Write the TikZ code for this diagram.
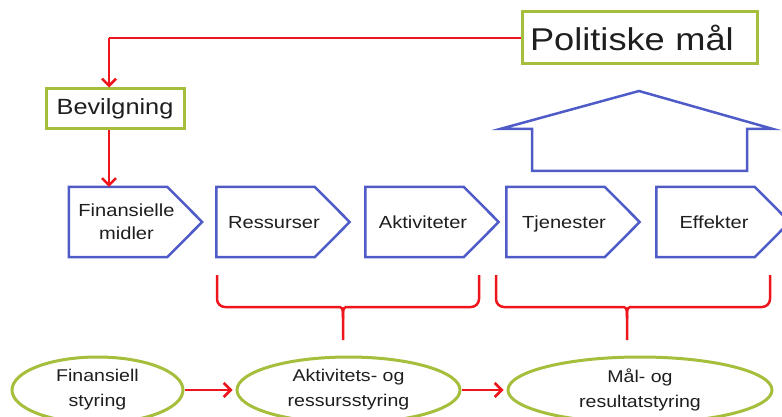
\documentclass[tikz,border=0pt]{standalone}
\usepackage{fontspec}
\setmainfont{Liberation Sans}[FakeStretch=1.15]
\usetikzlibrary{shapes.geometric,arrows.meta,calc}
\definecolor{cblue}{RGB}{79,92,200}
\definecolor{cgreen}{RGB}{165,190,60}
\definecolor{cred}{RGB}{238,22,28}
\definecolor{ctext}{RGB}{30,30,30}
\newcommand\chevoutline[1]{%
  \draw[chevline] (#1.north west) -- ($(#1.north east)+(-35pt,0)$) -- (#1.east)
    -- ($(#1.south east)+(-35pt,0)$) -- (#1.south west) -- cycle;}
\newcommand\lft{\hspace*{-18pt}}
\begin{document}
\begin{tikzpicture}[x=1pt,y=1pt,
 chev/.style={rectangle, minimum width=133pt, minimum height=70pt, inner sep=0pt,
   text=ctext, font=\fontsize{17.5}{23}\selectfont},
 chevone/.style={chev, text height=12.5pt, text depth=0pt},
 chevline/.style={draw=cblue, line width=2.5pt, line join=miter},
 goalbox/.style={draw=cgreen, line width=3pt, text=ctext},
 steer/.style={ellipse, draw=cgreen, line width=3pt, align=center, text=ctext,
   font=\fontsize{17}{25}\selectfont, inner sep=0pt, minimum height=66pt},
 link/.style={draw=cred, line width=2.5pt, -{Straight Barb[length=7pt,width=14pt]}},
 plain/.style={draw=cred, line width=2.5pt},
 bigarrow/.style={draw=cblue, line width=2.5pt, line join=miter}]
\useasboundingbox (0,0) rectangle (782,-417);

% top boxes
\node[goalbox, text width=219pt, align=left, inner xsep=8pt, minimum height=52pt,
  font=\fontsize{31.5}{34}\selectfont] (pol) at (639.5,-38) {Politiske mål};
\node[goalbox, minimum width=138pt, minimum height=40pt, inner sep=0pt,
  font=\fontsize{22}{26}\selectfont] (bev) at (115,-109) {Bevilgning};

% chevrons
\node[chev, align=center] (fin) at (135.5,-222) {\lft Finansielle\\\lft midler};
\node[chevone] (res) at (283,-222) {\lft Ressurser};
\node[chevone] (akt) at (432,-222) {\lft Aktiviteter};
\node[chevone] (tje) at (573,-222) {\lft Tjenester};
\node[chevone] (eff) at (723,-222) {\lft Effekter};
\chevoutline{fin}
\chevoutline{res}
\chevoutline{akt}
\chevoutline{tje}
\chevoutline{eff}

% red connectors at top
\coordinate (c1) at (109,-38);
\draw[plain] (pol.west) -- (c1);
\draw[link] (c1) -- (c1 |- bev.north);
\draw[link] (c1 |- bev.south) -- (c1 |- fin.north);

% big up arrow
\draw[bigarrow] (500,-129) -- (639,-91) -- (773,-129) -- (747,-129) -- (747,-171)
  -- (532,-171) -- (532,-129) -- cycle;

% braces
\draw[plain, rounded corners=8pt] (217,-275) -- (217,-307) -- (336,-307);
\draw[plain] (336,-307) .. controls (343,-307) .. (343,-318) -- (343,-340);
\draw[plain, rounded corners=8pt] (479,-275) -- (479,-307) -- (350,-307);
\draw[plain] (350,-307) .. controls (343,-307) .. (343,-318);

\draw[plain, rounded corners=8pt] (496,-275) -- (496,-307) -- (620,-307);
\draw[plain] (620,-307) .. controls (627,-307) .. (627,-318) -- (627,-340);
\draw[plain, rounded corners=8pt] (770,-275) -- (770,-307) -- (634,-307);
\draw[plain] (634,-307) .. controls (627,-307) .. (627,-318);

% ellipses
\node[steer, minimum width=171pt] (fs) at (97.5,-390) {Finansiell\\styring};
\node[steer, minimum width=223pt] (ars) at (348.5,-390) {Aktivitets- og\\ressursstyring};
\node[steer, minimum width=264pt] (mrs) at (640,-390) {Mål- og\\resultatstyring};

\draw[link, shorten >=3pt] (fs.east) -- (ars.west);
\draw[link, shorten >=3pt] (ars.east) -- (mrs.west);
\end{tikzpicture}
\end{document}
